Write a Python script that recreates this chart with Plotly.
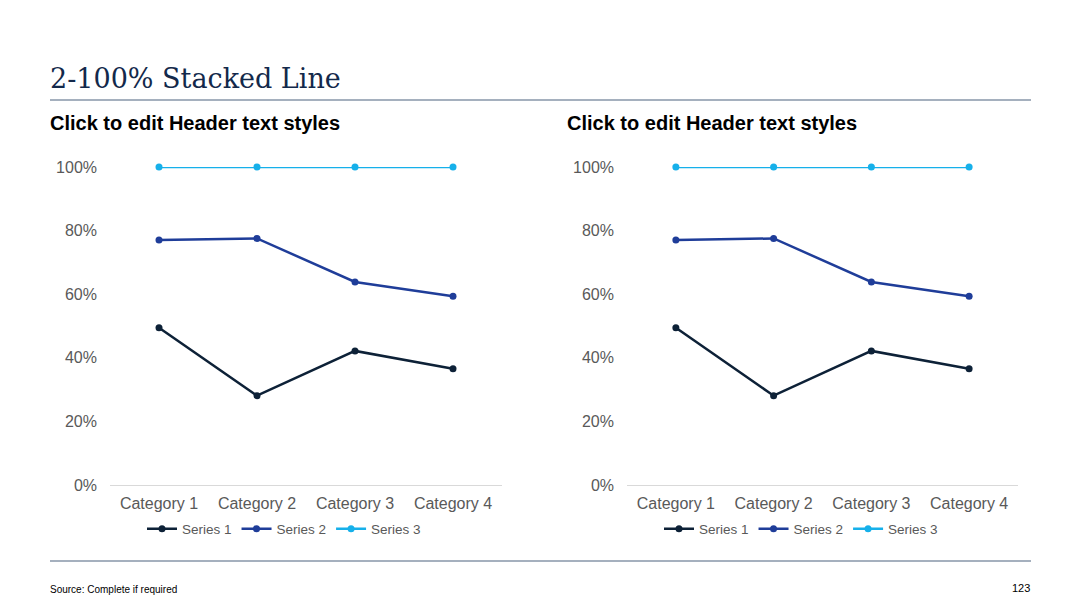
import plotly.graph_objects as go

categories = ["Category 1", "Category 2", "Category 3", "Category 4"]
series_names = ["Series 1", "Series 2", "Series 3"]
series1 = [4.3, 2.5, 3.5, 4.5]
series2 = [2.4, 4.4, 1.8, 2.8]
series3 = [2.0, 2.0, 3.0, 5.0]
series_values = [series1, series2, series3]
series_colors = ["#0d2137", "#1f3d99", "#16b0ea"]
y_ticks = [0, 20, 40, 60, 80, 100]
y_tick_labels = ["0%", "20%", "40%", "60%", "80%", "100%"]

# The page body has an 8px margin, so the figure is drawn at (8, 8).
OFF = 8
W, H = 1080 - OFF, 608 - OFF
FONT = "Liberation Sans, Arial, sans-serif"
GRAY = "#595959"


def fx(x):
    return (x - OFF) / W


def fy(y):
    return 1 - (y - OFF) / H


fig = go.Figure()

panels = [
    dict(xa="x", ya="y", xdom=(fx(110), fx(502)), legend="legend", stack="left", lx=284),
    dict(xa="x2", ya="y2", xdom=(fx(627), fx(1018)), legend="legend2", stack="right", lx=801),
]
ydom = (fy(485), fy(167))

for p in panels:
    for name, vals, col in zip(series_names, series_values, series_colors):
        fig.add_trace(go.Scatter(
            x=categories, y=vals, name=name,
            xaxis=p["xa"], yaxis=p["ya"],
            stackgroup=p["stack"], groupnorm="percent", fill="none",
            mode="lines+markers",
            line=dict(color=col, width=2.5),
            marker=dict(color=col, size=7),
            cliponaxis=False,
            legend=p["legend"],
        ))

axis_common_x = dict(
    type="category", range=[-0.5, 3.5], showgrid=False, zeroline=False,
    showline=True, linecolor="#d9d9d9", linewidth=1, ticks="",
    tickfont=dict(family=FONT, size=16, color=GRAY), ticklabelstandoff=4,
    fixedrange=True, automargin=False,
)
axis_common_y = dict(
    range=[0, 100], showgrid=False, zeroline=False, showline=False, ticks="",
    tickvals=y_ticks, ticktext=y_tick_labels,
    tickfont=dict(family=FONT, size=16, color=GRAY), ticklabelstandoff=12,
    domain=list(ydom), fixedrange=True, automargin=False,
)

legend_common = dict(
    orientation="h", xanchor="center", y=fy(529), yanchor="middle",
    font=dict(family=FONT, size=13.5, color=GRAY), itemwidth=30,
    bgcolor="rgba(0,0,0,0)", traceorder="normal",
)

fig.update_layout(
    width=W, height=H,
    margin=dict(l=0, r=0, t=0, b=0, pad=0, autoexpand=False),
    paper_bgcolor="white", plot_bgcolor="white",
    xaxis=dict(domain=list(panels[0]["xdom"]), anchor="y", **axis_common_x),
    yaxis=dict(anchor="x", **axis_common_y),
    xaxis2=dict(domain=list(panels[1]["xdom"]), anchor="y2", **axis_common_x),
    yaxis2=dict(anchor="x2", **axis_common_y),
    legend=dict(x=fx(panels[0]["lx"]), **legend_common),
    legend2=dict(x=fx(panels[1]["lx"]), **legend_common),
    showlegend=True,
)

# Title and headers
fig.add_annotation(text="2-100% Stacked Line", xref="paper", yref="paper",
                   x=fx(48), y=fy(78), xanchor="left", yanchor="middle", showarrow=False,
                   font=dict(family="DejaVu Serif, Georgia, serif", size=27, color="#13294b"))
for hx in (48, 565):
    fig.add_annotation(text="<b>Click to edit Header text styles</b>", xref="paper", yref="paper",
                       x=fx(hx), y=fy(123), xanchor="left", yanchor="middle", showarrow=False,
                       font=dict(family=FONT, size=20, color="#000000"))

# Separator lines
for ly in (100, 561):
    fig.add_shape(type="line", xref="paper", yref="paper",
                  x0=fx(50), x1=fx(1031), y0=fy(ly), y1=fy(ly),
                  line=dict(color="#8796a8", width=1.5))

# Footer
fig.add_annotation(text="Source: Complete if required", xref="paper", yref="paper",
                   x=fx(48), y=fy(589), xanchor="left", yanchor="middle", showarrow=False,
                   font=dict(family=FONT, size=10, color="#000000"))
fig.add_annotation(text="123", xref="paper", yref="paper",
                   x=fx(1032), y=fy(588), xanchor="right", yanchor="middle", showarrow=False,
                   font=dict(family=FONT, size=11, color="#000000"))

fig.write_html("out.html")
